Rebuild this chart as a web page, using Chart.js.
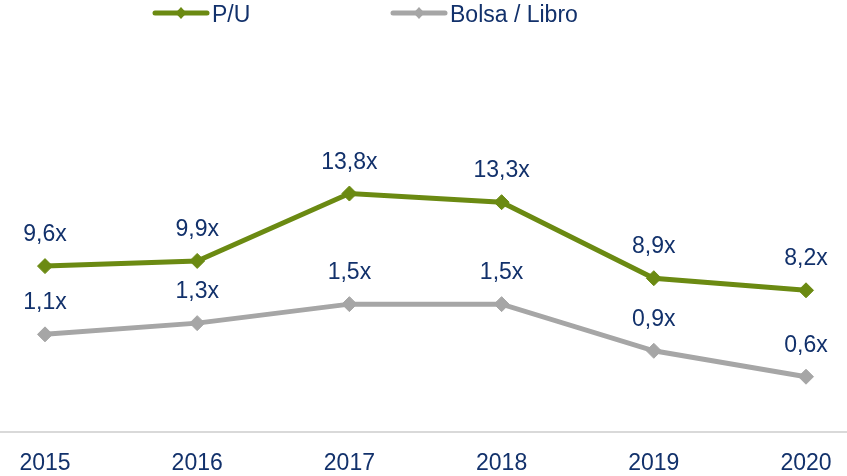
<!DOCTYPE html>
<html>
<head>
<meta charset="utf-8">
<script src="https://cdn.jsdelivr.net/npm/chart.js@4/dist/chart.umd.min.js"></script>
<style>
  html, body { margin: 0; padding: 0; background: #fff; }
  #wrap { width: 847px; height: 476px; }
</style>
</head>
<body>
<div id="wrap"><canvas id="multiplesChart" width="847" height="476"></canvas></div>
<script>
// values
const years = ['2015', '2016', '2017', '2018', '2019', '2020'];
const priceEarnings = [9.6, 9.9, 13.8, 13.3, 8.9, 8.2];
const priceBook = [1.13, 1.26, 1.48, 1.48, 0.94, 0.64];
const seriesNames = ['P/U', 'Bolsa / Libro'];

const GREEN = '#6B8A12';
const GREY = '#A6A6A6';
const NAVY = '#12316B';
const FONT = '"Liberation Sans", Arial, sans-serif';

function fmt(v) {
  return v.toFixed(1).replace('.', ',') + 'x';
}

// axis line, value labels and the legend are drawn by hand
const decorations = {
  id: 'decorations',
  beforeDatasetsDraw(chart) {
    const ctx = chart.ctx;
    const area = chart.chartArea;
    ctx.save();
    ctx.strokeStyle = '#D9D9D9';
    ctx.lineWidth = 2;
    ctx.beginPath();
    ctx.moveTo(0, area.bottom);
    ctx.lineTo(chart.width, area.bottom);
    ctx.stroke();
    ctx.restore();
  },
  afterDatasetsDraw(chart) {
    const ctx = chart.ctx;
    ctx.save();
    ctx.font = '23px ' + FONT;
    ctx.fillStyle = NAVY;
    ctx.textAlign = 'center';
    ctx.textBaseline = 'alphabetic';
    chart.data.datasets.forEach(function (ds, i) {
      const meta = chart.getDatasetMeta(i);
      meta.data.forEach(function (pt, j) {
        ctx.fillText(fmt(ds.data[j]), pt.x, pt.y - 25);
      });
    });

    // legend
    const items = [
      { x: 153, color: GREEN, text: seriesNames[0] },
      { x: 391, color: GREY, text: seriesNames[1] }
    ];
    items.forEach(function (it) {
      ctx.strokeStyle = it.color;
      ctx.lineWidth = 5;
      ctx.lineCap = 'round';
      ctx.beginPath();
      ctx.moveTo(it.x + 2, 13);
      ctx.lineTo(it.x + 54, 13);
      ctx.stroke();
      const cx = it.x + 28;
      ctx.fillStyle = it.color;
      ctx.beginPath();
      ctx.moveTo(cx, 7);
      ctx.lineTo(cx + 5.5, 13);
      ctx.lineTo(cx, 19);
      ctx.lineTo(cx - 5.5, 13);
      ctx.closePath();
      ctx.fill();
      ctx.fillStyle = NAVY;
      ctx.textAlign = 'left';
      ctx.fillText(it.text, it.x + 59, 22);
    });
    ctx.restore();
  }
};

const ctx = document.getElementById('multiplesChart').getContext('2d');

new Chart(ctx, {
  type: 'line',
  data: {
    labels: years,
    datasets: [
      {
        label: seriesNames[0],
        data: priceEarnings,
        yAxisID: 'y',
        borderColor: GREEN,
        backgroundColor: GREEN,
        borderWidth: 5,
        pointStyle: 'rectRot',
        pointRadius: 7.5,
        pointBorderWidth: 1,
        pointBackgroundColor: GREEN,
        pointBorderColor: GREEN,
        tension: 0,
        fill: false
      },
      {
        label: seriesNames[1],
        data: priceBook,
        yAxisID: 'y2',
        borderColor: GREY,
        backgroundColor: GREY,
        borderWidth: 5,
        pointStyle: 'rectRot',
        pointRadius: 7.5,
        pointBorderWidth: 1,
        pointBackgroundColor: GREY,
        pointBorderColor: GREY,
        tension: 0,
        fill: false
      }
    ]
  },
  options: {
    responsive: false,
    animation: false,
    layout: {
      autoPadding: false,
      padding: { left: 45, right: 41, top: 0, bottom: 0 }
    },
    plugins: {
      legend: { display: false },
      tooltip: { enabled: false }
    },
    scales: {
      x: {
        offset: false,
        grid: { display: false, drawTicks: false },
        border: { display: false },
        ticks: {
          color: NAVY,
          font: { family: FONT, size: 23 },
          padding: 18,
          maxRotation: 0,
          autoSkip: false
        },
        afterFit: function (scale) {
          scale.height = 44;
          scale.paddingLeft = 0;
          scale.paddingRight = 0;
        }
      },
      y: {
        display: false,
        min: 0,
        max: 25
      },
      y2: {
        display: false,
        position: 'right',
        min: 0,
        max: 5
      }
    }
  },
  plugins: [decorations]
});
</script>
</body>
</html>
